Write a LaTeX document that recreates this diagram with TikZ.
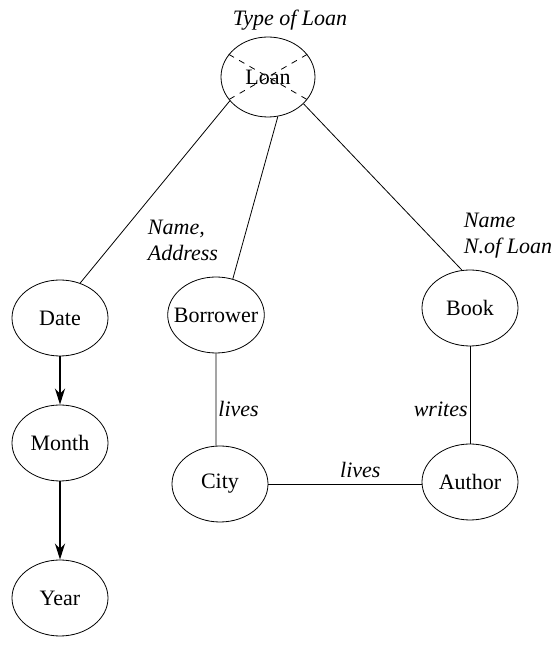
\documentclass[tikz,border=0pt]{standalone}
\usepackage{fontspec}
\setmainfont{Liberation Serif}
\usepackage{tikz}
\usetikzlibrary{arrows.meta,shapes.geometric}
\tikzset{
	entity/.style={draw, ellipse, inner ysep=0pt, inner xsep=-4pt, minimum width=48pt, minimum height=38pt, font=\fontsize{11}{13}\selectfont},
	attr/.style={font=\fontsize{11}{13}\selectfont\itshape, align=left, inner sep=1pt},
	isa/.style={line width=1.2pt, -{Stealth[length=8pt, width=5pt]}}
}

\begin{document}
\begin{tikzpicture}[x=10pt, y=10pt]
			%%%%% START %%%%%
			\useasboundingbox (0, 0) rectangle (28, 33.5);
			
			\node[entity, minimum width=47pt, minimum height=40pt] (loan) at (13.4, 29.65) {Loan};
			\node[attr] (loantype) at (14.5, 32.5) {Type of Loan};
			\draw[dashed, thin] (loan.150) -- (loan.-30);
			\draw[dashed, thin] (loan.30) -- (loan.210);
			
			\node[entity] (date) at (3.0, 17.6) {Date};
			\node[entity] (month) at (3.0, 11.35) {Month};
			\node[entity] (year) at (3.0, 3.6) {Year};
			
			\node[entity] (borrower) at (10.8, 17.75) {Borrower};
			\node[entity] (city) at (11.0, 9.3) {City};
			
			\node[entity] (book) at (23.5, 18.1) {Book};
			\node[entity] (author) at (23.5, 9.4) {Author};
			
			\node[attr] (borrowerkey) at (9.15, 21.5) {Name,\\Address};
			\node[attr] (bookkey) at (25.4, 21.7) {Name\\N.of Loan};
			
			\draw (loan.212) -- (date.60);
			\draw (loan.-76) -- (borrower.65);
			\draw (loan.-37) -- (book.102);
			
			\draw[isa] (date) -- (month);
			\draw[isa] (month) -- (year);
			
			\draw (borrower.south) -- node[attr, pos=0.6, right] {lives} (city.96);
			\draw (book) -- node[attr, pos=0.65, left] {writes} (author);
			\draw (city.0) -- node[attr, pos=0.6, above=2pt] {lives} (city.0 -| author.west);
			%%%%% END %%%%%
		\end{tikzpicture}
\end{document}
